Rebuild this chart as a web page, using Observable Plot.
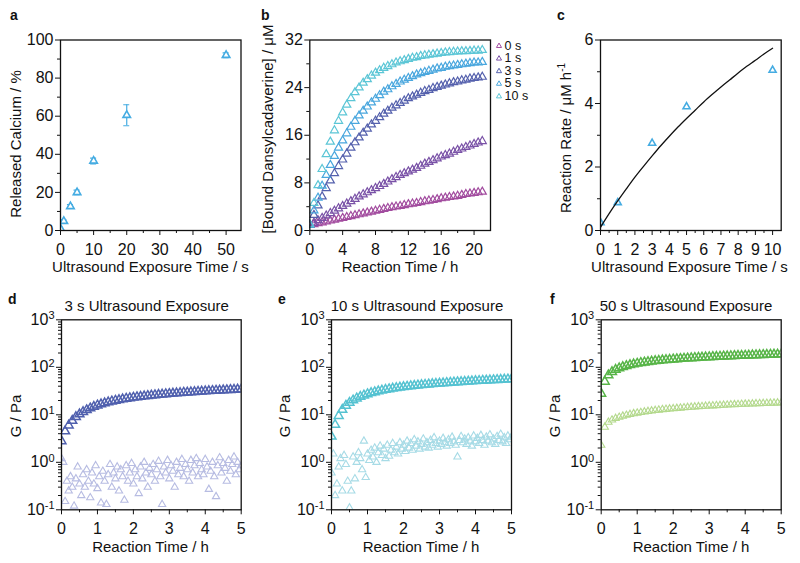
<!DOCTYPE html>
<html><head><meta charset="utf-8">
<script src="https://cdn.jsdelivr.net/npm/d3@7"></script>
<script src="https://cdn.jsdelivr.net/npm/@observablehq/plot@0.6"></script>
<style>
body{margin:0;background:#fff;font-family:"Liberation Sans",Arial,sans-serif;}
#root{position:relative;width:800px;height:563px;overflow:hidden;background:#fff;}
.p{position:absolute;}
.t{position:absolute;white-space:nowrap;line-height:1;color:#111;font-family:"Liberation Sans",Arial,sans-serif;}
.t sup{font-size:10px;line-height:0;}
</style></head><body><div id="root"></div><script>
// ---------- DATA ----------
// Panel a
const aTime = [0, 1, 3, 5, 10, 20, 50];
const aCalcium = [1.0, 4.9, 12.6, 20.0, 36.5, 60.5, 92.0];
const aError = [0.6, 0.8, 1.0, 1.2, 1.5, 5.5, 1.2];
const aXTicks = [0, 10, 20, 30, 40, 50];
const aYTicks = [0, 20, 40, 60, 80, 100];

// Panel b
const bSeries = ["0 s", "1 s", "3 s", "5 s", "10 s"];
const bTime = [0,0.5,1,1.5,2,2.5,3,3.5,4,4.5,5,5.5,6,6.5,7,7.5,8,8.5,9,9.5,10,10.5,11,11.5,12,12.5,13,13.5,14,14.5,15,15.5,16,16.5,17,17.5,18,18.5,19,19.5,20,20.5,21];
const b0s = [0.9,1.05,1.2,1.35,1.5,1.65,1.8,1.95,2.1,2.25,2.4,2.55,2.7,2.85,3.0,3.15,3.3,3.45,3.6,3.75,3.9,4.0,4.1,4.25,4.4,4.5,4.6,4.75,4.9,5.0,5.1,5.25,5.4,5.5,5.6,5.7,5.8,5.95,6.1,6.2,6.3,6.4,6.5];
const b1s = [0.9,1.3,1.7,2.1,2.5,2.9,3.3,3.7,4.1,4.5,4.9,5.3,5.7,6.05,6.4,6.75,7.1,7.45,7.8,8.2,8.6,8.95,9.3,9.6,9.9,10.2,10.5,10.85,11.2,11.5,11.8,12.1,12.4,12.65,12.9,13.2,13.5,13.75,14.0,14.25,14.5,14.75,15.0];
const b3s = [0.9,2.6,4.2,5.7,7.1,8.4,9.6,10.8,11.9,12.9,13.9,14.8,15.6,16.4,17.1,17.8,18.4,19.0,19.6,20.1,20.6,21.0,21.4,21.8,22.2,22.5,22.8,23.1,23.4,23.6,23.9,24.1,24.3,24.5,24.7,24.9,25.0,25.2,25.3,25.5,25.6,25.7,25.8];
const b5s = [1.0,3.35,5.5,7.5,9.3,11.0,12.5,13.9,15.1,16.3,17.4,18.4,19.3,20.1,20.8,21.5,22.1,22.7,23.3,23.7,24.2,24.6,25.0,25.3,25.6,25.9,26.2,26.4,26.6,26.8,27.0,27.2,27.3,27.5,27.6,27.7,27.8,27.9,28.0,28.1,28.2,28.2,28.3];
const b10s = [1.0,4.6,7.6,10.3,12.8,14.9,16.8,18.4,19.8,21.1,22.2,23.2,24.0,24.8,25.4,26.0,26.5,26.9,27.3,27.6,27.9,28.2,28.4,28.6,28.8,29.0,29.1,29.3,29.4,29.5,29.6,29.7,29.8,29.9,29.95,30.0,30.05,30.1,30.1,30.15,30.2,30.2,30.3];
const bXTicks = [0, 4, 8, 12, 16, 20];
const bYTicks = [0, 8, 16, 24, 32];

// Panel c
const cTime = [0, 1, 3, 5, 10];
const cRate = [0.25, 0.88, 2.75, 3.9, 5.05];
const cError = [0.05, 0.05, 0.08, 0.08, 0.1];
const cFitTime = [0,0.5,1,1.5,2,2.5,3,3.5,4,4.5,5,5.5,6,6.5,7,7.5,8,8.5,9,9.5,10];
const cFitRate = [0.10,0.53,0.93,1.31,1.68,2.02,2.35,2.67,2.97,3.26,3.53,3.79,4.05,4.29,4.52,4.74,4.96,5.17,5.36,5.56,5.74];
const cXTicks = [0,1,2,3,4,5,6,7,8,9,10];
const cYTicks = [0, 2, 4, 6];

// Panels d, e, f (rheology)
const gTime = [0,0.1,0.2,0.3,0.4,0.5,0.6,0.7,0.8,0.9,1.0,1.1,1.2,1.3,1.4,1.5,1.6,1.7,1.8,1.9,2.0,2.1,2.2,2.3,2.4,2.5,2.6,2.7,2.8,2.9,3.0,3.1,3.2,3.3,3.4,3.5,3.6,3.7,3.8,3.9,4.0,4.1,4.2,4.3,4.4,4.5,4.6,4.7,4.8,4.9,5.0];
const sTime = [0,0.05,0.1,0.15,0.2,0.25,0.3,0.35,0.4,0.45,0.5,0.55,0.6,0.65,0.7,0.75,0.8,0.85,0.9,0.95,1.0,1.05,1.1,1.15,1.2,1.25,1.3,1.35,1.4,1.45,1.5,1.55,1.6,1.65,1.7,1.75,1.8,1.85,1.9,1.95,2.0,2.05,2.1,2.15,2.2,2.25,2.3,2.35,2.4,2.45,2.5,2.55,2.6,2.65,2.7,2.75,2.8,2.85,2.9,2.95,3.0,3.05,3.1,3.15,3.2,3.25,3.3,3.35,3.4,3.45,3.5,3.55,3.6,3.65,3.7,3.75,3.8,3.85,3.9,3.95,4.0,4.05,4.1,4.15,4.2,4.25,4.3,4.35,4.4,4.45,4.5,4.55,4.6,4.65,4.7,4.75,4.8,4.85,4.9,4.95,5.0];
const dStorage = [2.8,4.5,6.0,7.5,9.0,10.3,11.5,12.6,13.7,14.8,15.8,16.7,17.6,18.4,19.2,19.9,20.6,21.3,21.9,22.5,23.1,23.6,24.1,24.6,25.1,25.6,26.0,26.5,26.9,27.3,27.7,28.1,28.5,28.9,29.3,29.6,30.0,30.3,30.7,31.0,31.4,31.7,32.0,32.3,32.6,32.9,33.2,33.5,33.8,34.1,34.4];
const dLoss = [1.2,1.0,0.15,0.4,0.25,0.5,0.3,0.12,0.45,0.8,0.35,0.2,0.55,0.3,0.7,0.4,0.18,0.6,0.35,0.85,0.28,0.5,0.14,0.65,0.4,0.13,0.55,0.9,0.3,0.6,0.45,0.8,0.25,0.7,0.5,0.16,0.85,0.4,0.6,0.95,0.35,0.7,0.5,0.22,0.8,0.45,1.0,0.6,0.3,0.75,0.55,0.9,0.4,0.7,1.05,0.5,0.13,0.8,0.6,1.1,0.45,0.85,0.65,0.3,1.0,0.55,0.75,1.15,0.5,0.9,0.7,0.4,1.1,0.6,0.85,1.2,0.5,0.95,0.7,0.55,1.15,0.8,0.27,0.65,1.0,0.5,0.19,0.85,1.25,0.6,0.95,0.75,0.4,1.1,0.65,0.9,1.3,0.55,1.0,0.7,0.85];
const eStorage = [3.5,6.2,9.5,12.8,15.6,18.0,20.2,22.2,24.0,25.7,27.3,28.8,30.1,31.4,32.6,33.7,34.8,35.8,36.8,37.7,38.6,39.4,40.2,41.0,41.7,42.4,43.1,43.8,44.5,45.1,45.8,46.4,47.0,47.6,48.2,48.8,49.3,49.9,50.4,51.0,51.5,52.0,52.5,53.0,53.5,54.0,54.5,55.0,55.5,56.0,56.5];
const eLoss = [0.6,1.5,0.2,0.35,0.8,1.2,0.25,1.4,0.9,0.4,0.11,0.25,1.3,0.45,1.0,1.6,1.2,0.7,2.8,0.48,1.5,1.1,1.8,1.3,2.0,1.0,1.6,2.2,1.4,1.9,1.2,2.3,1.35,1.8,2.5,1.6,2.1,1.5,2.6,1.9,2.3,1.7,2.8,2.0,2.5,1.8,3.0,2.2,2.7,1.9,2.4,3.1,2.1,2.6,2.0,2.9,2.3,3.3,2.5,2.1,2.8,2.4,3.2,2.6,2.2,3.0,2.5,3.4,2.7,2.3,1.3,2.9,3.5,2.6,3.1,2.4,3.3,2.8,2.2,3.6,2.7,3.2,2.5,3.7,2.9,2.3,3.4,2.8,3.8,2.6,3.1,2.4,3.5,2.9,3.9,2.7,3.3,2.5,3.6,3.0,3.4];
const fStorage = [28,50,68,80,89,96,102,107,112,116,120,124,127,130,133,136,138,141,143,145,147,149,151,153,155,156,158,160,161,163,164,166,167,168,170,171,172,174,175,176,177,178,180,181,182,183,184,185,186,187,188];
const fLoss = [2.3,5.5,7.0,7.8,8.4,8.9,9.4,9.8,10.2,10.6,10.9,11.2,11.5,11.8,12.1,12.4,12.6,12.9,13.1,13.3,13.5,13.7,13.9,14.1,14.3,14.5,14.7,14.9,15.0,15.2,15.4,15.5,15.7,15.8,16.0,16.1,16.3,16.4,16.5,16.7,16.8,16.9,17.0,17.2,17.3,17.4,17.5,17.6,17.7,17.8,17.9];
const gXTicks = [0, 1, 2, 3, 4, 5];
const gYTicks = [0.1, 1, 10, 100, 1000];

// ---------- STYLE ----------
const FONT = '"Liberation Sans", Arial, sans-serif';
const INK = "#111";
const markerBlue = "#45ace2";
const bColors = ["#a24c9f", "#7a52a7", "#5561ad", "#4aa7de", "#5cc6d6"];
const dColors = {storage: "#5060ae", loss: "#b7bce2"};
const eColors = {storage: "#55c2d1", loss: "#a7dbe6"};
const fColors = {storage: "#58b548", loss: "#b4d98d"};

const root = document.getElementById("root");
const mid = (arr) => arr.slice(0, -1).map((v, i) => (v + arr[i + 1]) / 2);
const logMinor = [0.1, 1, 10, 100].flatMap(d => [2,3,4,5,6,7,8,9].map(k => k * d));

function axes(xMajor, xMinor, yMajor, yMinor, yFormat) {
  return [
    Plot.frame({stroke: INK, strokeWidth: 1.3}),
    Plot.axisX({ticks: xMajor, tickSize: 5, tickPadding: 8, label: null, stroke: INK, fill: INK, tickFormat: d => String(d)}),
    Plot.axisX({ticks: xMinor, tickSize: 3, label: null, stroke: INK, tickFormat: () => ""}),
    Plot.axisY({ticks: yMajor, tickSize: 5, tickPadding: 2, label: null, stroke: INK, fill: INK, tickFormat: yFormat || (d => String(d))}),
    Plot.axisY({ticks: yMinor, tickSize: 3, label: null, stroke: INK, tickFormat: () => ""})
  ];
}

function place(svgOpts, left, top) {
  const chart = Plot.plot(Object.assign({
    style: {fontFamily: FONT, fontSize: "16px", color: INK, background: "transparent", overflow: "visible"}
  }, svgOpts));
  const div = document.createElement("div");
  div.className = "p";
  div.style.left = left + "px";
  div.style.top = top + "px";
  div.appendChild(chart);
  root.appendChild(div);
  // superscript exponents on log-axis labels
  chart.querySelectorAll('g[aria-label="y-axis tick label"] text').forEach(t => {
    const s = t.textContent;
    if (s.startsWith("10^")) {
      t.textContent = "10";
      const ts = document.createElementNS("http://www.w3.org/2000/svg", "tspan");
      ts.setAttribute("dy", "-0.5em");
      ts.setAttribute("font-size", "11px");
      ts.textContent = s.slice(3);
      t.appendChild(ts);
    }
  });
  return chart;
}

function txt(html, x, y, o = {}) {
  const el = document.createElement("div");
  el.className = "t";
  el.innerHTML = html;
  el.style.left = x + "px";
  el.style.top = y + "px";
  el.style.fontSize = (o.size || 15) + "px";
  if (o.bold) el.style.fontWeight = "bold";
  el.style.transform = o.rot ? "translate(-50%,-50%) rotate(-90deg)" : (o.left ? "translate(0,-50%)" : "translate(-50%,-50%)");
  root.appendChild(el);
}

// ---------- PANEL a ----------
const aData = aTime.map((t, i) => ({t, v: aCalcium[i], lo: aCalcium[i] - aError[i], hi: aCalcium[i] + aError[i]}));
place({
  width: 262, height: 280, marginLeft: 60, marginRight: 21.5, marginTop: 39.5, marginBottom: 50,
  x: {domain: [0, 54.5]}, y: {domain: [0, 100]},
  marks: [
    Plot.ruleX(aData, {x: "t", y1: "lo", y2: "hi", stroke: markerBlue, strokeWidth: 1.2, clip: true}),
    Plot.ruleY(aData, {y: "lo", x1: "t", x2: "t", insetLeft: -3, insetRight: -3, stroke: markerBlue, strokeWidth: 1.2, clip: true}),
    Plot.ruleY(aData, {y: "hi", x1: "t", x2: "t", insetLeft: -3, insetRight: -3, stroke: markerBlue, strokeWidth: 1.2, clip: true}),
    Plot.dot(aData, {x: "t", y: "v", symbol: "triangle", r: 2.8, stroke: markerBlue, strokeWidth: 1.6, fill: "white", clip: true}),
    ...axes(aXTicks, mid(aXTicks), aYTicks, mid(aYTicks))
  ]
}, 0, 0);

// ---------- PANEL b ----------
const bValues = [b0s, b1s, b3s, b5s, b10s];
const bMarks = bSeries.map((s, i) =>
  Plot.dot(bTime.map((t, j) => ({t, v: bValues[i][j]})), {x: "t", y: "v", symbol: "triangle", r: 3, stroke: bColors[i], strokeWidth: 1.2, clip: true}));
const legendMarks = bSeries.map((s, i) =>
  Plot.dot([s], {frameAnchor: "top-right", dx: 8.5, dy: 6 + i * 12.6, symbol: "triangle", r: 1.9, stroke: bColors[i], strokeWidth: 1}));
place({
  width: 276, height: 280, marginLeft: 47.3, marginRight: 48, marginTop: 39.5, marginBottom: 50,
  x: {domain: [0, 22]}, y: {domain: [0, 32]},
  marks: [...bMarks, ...legendMarks, ...axes(bXTicks, mid(bXTicks), bYTicks, mid(bYTicks))]
}, 262, 0);
bSeries.forEach((s, i) => txt(s, 504.5, 45.5 + i * 12.6, {left: true, size: 12.5}));

// ---------- PANEL c ----------
const cData = cTime.map((t, i) => ({t, v: cRate[i], lo: cRate[i] - cError[i], hi: cRate[i] + cError[i]}));
const cFit = cFitTime.map((t, i) => ({t, v: cFitRate[i]}));
place({
  width: 262, height: 280, marginLeft: 62, marginRight: 19.3, marginTop: 39.5, marginBottom: 50,
  x: {domain: [0, 10.5]}, y: {domain: [0, 6]},
  marks: [
    Plot.ruleX(cData, {x: "t", y1: "lo", y2: "hi", stroke: markerBlue, strokeWidth: 1.2, clip: true}),
    Plot.dot(cData, {x: "t", y: "v", symbol: "triangle", r: 2.6, stroke: markerBlue, strokeWidth: 1.6, fill: "white", clip: true}),
    Plot.line(cFit, {x: "t", y: "v", stroke: INK, strokeWidth: 1.3, curve: "monotone-x", clip: true}),
    ...axes(cXTicks, mid(cXTicks), cYTicks, mid(cYTicks))
  ]
}, 538, 0);

// ---------- PANELS d, e, f ----------
function rheo(storage, loss, lossTime, colors, left, width, ml, mr) {
  const st = gTime.map((t, i) => ({t, v: storage[i]}));
  const ls = lossTime.map((t, i) => ({t, v: loss[i]}));
  place({
    width, height: 283, marginLeft: ml, marginRight: mr, marginTop: 39.3, marginBottom: 53.7,
    x: {domain: [0, 5]}, y: {type: "log", domain: [0.1, 1000]},
    marks: [
      Plot.dot(ls, {x: "t", y: "v", symbol: "triangle", r: 2.7, stroke: colors.loss, strokeWidth: 1.1, clip: true}),
      Plot.dot(st, {x: "t", y: "v", symbol: "triangle", r: 3.3, stroke: colors.storage, strokeWidth: 1.5, clip: true}),
      ...axes(gXTicks, mid(gXTicks), gYTicks, logMinor, d => "10^" + Math.round(Math.log10(d)))
    ]
  }, left, 280);
}
rheo(dStorage, dLoss, sTime, dColors, 0, 262, 61, 21.3);
rheo(eStorage, eLoss, sTime, eColors, 262, 276, 69, 27);
rheo(fStorage, fLoss, gTime, fColors, 538, 262, 62.7, 19.3);

// ---------- TEXT ----------
txt("a", 10, 14.6, {bold: true, left: true, size: 14});
txt("b", 261, 14.6, {bold: true, left: true, size: 14});
txt("c", 557, 14.6, {bold: true, left: true, size: 14});
txt("d", 8, 299, {bold: true, left: true, size: 14});
txt("e", 278, 299, {bold: true, left: true, size: 14});
txt("f", 550, 299, {bold: true, left: true, size: 14});

txt("Released Calcium / %", 14.5, 144, {rot: true});
txt("Ultrasound Exposure Time / s", 150.5, 265.5);
txt("[Bound Dansylcadaverine] / μM", 266.5, 128.5, {rot: true});
txt("Reaction Time / h", 400, 265.5);
txt("Reaction Rate / μM h<sup>-1</sup>", 565, 137.5, {rot: true});
txt("Ultrasound Exposure Time / s", 689.5, 265.5);

txt("3 s Ultrasound Exposure", 146.7, 305.3);
txt("10 s Ultrasound Exposure", 417, 305.3);
txt("50 s Ultrasound Exposure", 686, 305.3);
txt("G / Pa", 14.5, 416, {rot: true});
txt("G / Pa", 284, 416, {rot: true});
txt("G / Pa", 554, 416, {rot: true});
txt("Reaction Time / h", 150.5, 546);
txt("Reaction Time / h", 421, 546);
txt("Reaction Time / h", 691, 546);
</script></body></html>
